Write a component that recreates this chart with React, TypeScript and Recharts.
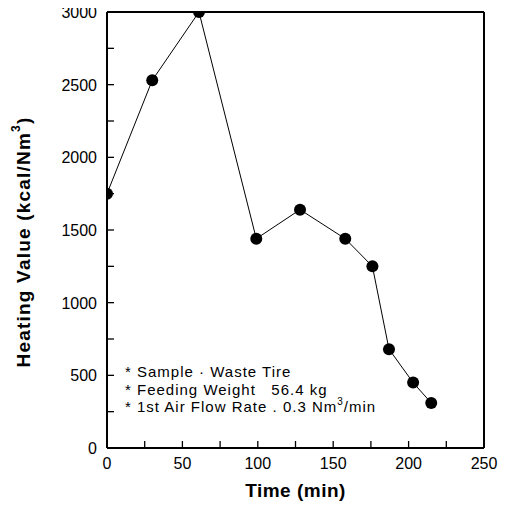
import { CartesianGrid, Line, LineChart, ReferenceLine, XAxis, YAxis } from 'recharts';

/* ───────── data ───────── */

const timeMin = [0, 30, 61, 99, 128, 158, 176, 187, 203, 215];
const heatingValue = [1750, 2530, 3000, 1440, 1640, 1440, 1250, 680, 450, 310];

const xTicks = [0, 25, 50, 75, 100, 125, 150, 175, 200, 225, 250];
const yTicks = [0, 250, 500, 750, 1000, 1250, 1500, 1750, 2000, 2250, 2500, 2750, 3000];

const notes = ['* Sample · Waste Tire', '* Feeding Weight   56.4 kg'];

const FONT = '"Liberation Sans", Arial, Helvetica, sans-serif';

const data = timeMin.map((t, i) => ({ t, v: heatingValue[i] }));

/* ───────── custom ticks: inward marks, labels only on majors ───────── */

function XTick({ x, y, payload }: any) {
  const v = payload.value as number;
  return (
    <g>
      <line x1={x} y1={y} x2={x} y2={y - 7} stroke="#000" strokeWidth={1.3} />
      {v % 50 === 0 && (
        <text x={x} y={y + 21} textAnchor="middle" fontSize={16} fontFamily={FONT} fill="#000">
          {v}
        </text>
      )}
    </g>
  );
}

function YTick({ x, y, payload }: any) {
  const v = payload.value as number;
  return (
    <g>
      <line x1={x} y1={y} x2={x + 7} y2={y} stroke="#000" strokeWidth={1.3} />
      {v % 500 === 0 && (
        <text x={x - 10} y={y + 6} textAnchor="end" fontSize={16} fontFamily={FONT} fill="#000">
          {v}
        </text>
      )}
    </g>
  );
}

function YLabel({ viewBox }: any) {
  const cx = 23;
  const cy = viewBox.y + viewBox.height / 2 + 12;
  return (
    <text
      x={cx}
      y={cy}
      transform={`rotate(-90, ${cx}, ${cy})`}
      textAnchor="middle"
      dominantBaseline="central"
      fontSize={19}
      fontWeight="bold"
      letterSpacing={1.2}
      fontFamily={FONT}
      fill="#000"
    >
      Heating Value  (kcal/Nm
      <tspan fontSize={12} dy={-7}>3</tspan>
      <tspan dy={7}>)</tspan>
    </text>
  );
}

function XLabel({ viewBox }: any) {
  const cx = viewBox.x + viewBox.width / 2;
  return (
    <text
      x={cx}
      y={497}
      textAnchor="middle"
      fontSize={19}
      fontWeight="bold"
      letterSpacing={0.5}
      fontFamily={FONT}
      fill="#000"
    >
      Time  (min)
    </text>
  );
}

export default function App() {
  return (
    <div style={{ position: 'relative', width: 510, height: 510, marginTop: -8, marginLeft: -8, background: '#fff' }}>
      <LineChart width={510} height={510} data={data} margin={{ top: 12, right: 26, bottom: 0, left: 0 }}>
        <CartesianGrid stroke="none" />
        <XAxis
          dataKey="t"
          type="number"
          domain={[0, 250]}
          ticks={xTicks}
          interval={0}
          allowDataOverflow
          height={62}
          tickSize={0}
          tickMargin={0}
          tickLine={false}
          tick={<XTick />}
          axisLine={{ stroke: '#000', strokeWidth: 2 }}
          label={<XLabel />}
        />
        <YAxis
          dataKey="v"
          type="number"
          domain={[0, 3000]}
          ticks={yTicks}
          interval={0}
          allowDataOverflow
          width={107}
          tickSize={0}
          tickMargin={0}
          tickLine={false}
          tick={<YTick />}
          axisLine={{ stroke: '#000', strokeWidth: 2 }}
          label={<YLabel />}
        />
        <ReferenceLine y={3000} stroke="#000" strokeWidth={2} />
        <ReferenceLine x={250} stroke="#000" strokeWidth={2} />
        <Line
          type="linear"
          dataKey="v"
          stroke="#000"
          strokeWidth={1}
          dot={{ r: 6, fill: '#000', stroke: '#000', strokeWidth: 0 }}
          isAnimationActive={false}
        />
      </LineChart>
      <div
        style={{
          position: 'absolute',
          left: 125,
          top: 363,
          fontFamily: FONT,
          fontSize: 15,
          lineHeight: '17.5px',
          letterSpacing: 1,
          whiteSpace: 'pre',
          color: '#000',
        }}
      >
        {notes.map((n) => (
          <div key={n}>{n}</div>
        ))}
        <div>
          * 1st Air Flow Rate . 0.3 Nm
          <span style={{ fontSize: 10, verticalAlign: 'top', lineHeight: 0, position: 'relative', top: 4 }}>3</span>
          /min
        </div>
      </div>
    </div>
  );
}
